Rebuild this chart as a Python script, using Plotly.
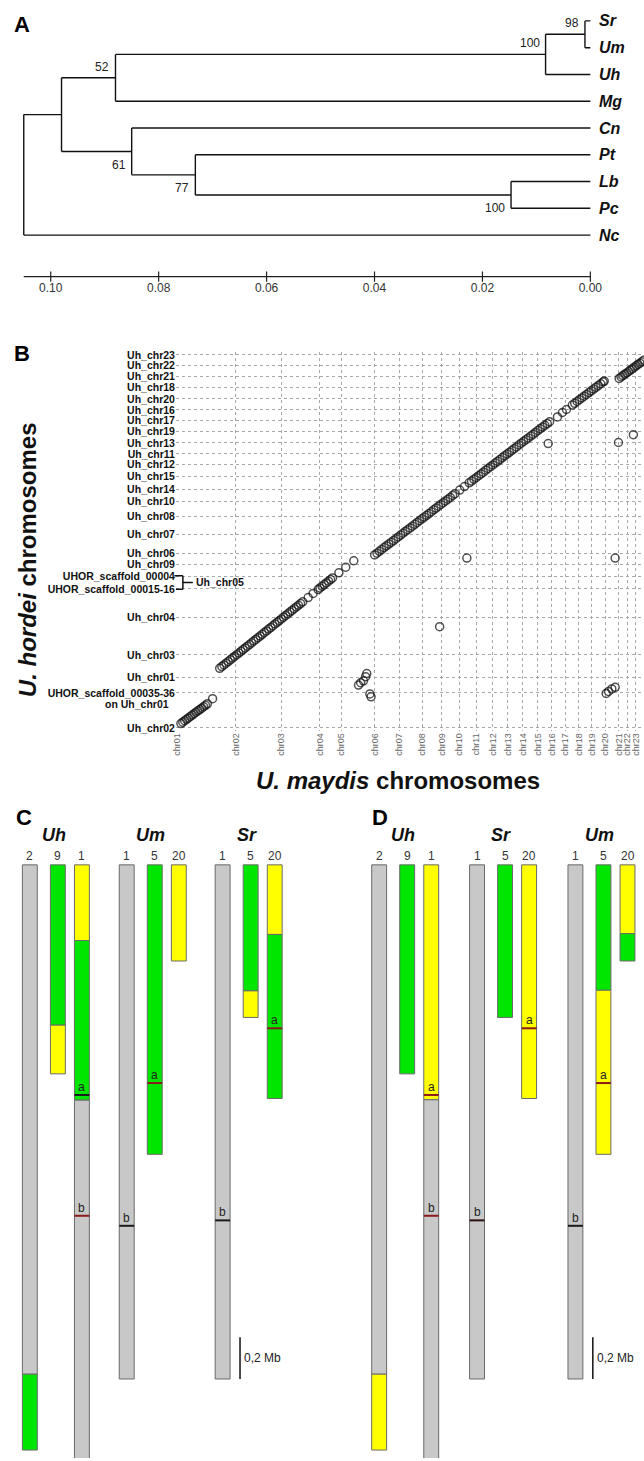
import plotly.graph_objects as go

W, H = 644, 1461
FONT = "Liberation Sans, Arial, sans-serif"

def pxx(x):
    return x / W

def pxy(y):
    return 1 - y / H

# ---------------- Panel A: tree data ----------------
taxa = ["Sr", "Um", "Uh", "Mg", "Cn", "Pt", "Lb", "Pc", "Nc"]
node_names = ["n98", "n100a", "n52", "n100b", "n77", "n61", "n5261", "root"]
node_heights = [0.0010, 0.0083, 0.0880, 0.0147, 0.0732, 0.0850, 0.0980, 0.1050]
node_children = [("Sr", "Um"), ("n98", "Uh"), ("n100a", "Mg"), ("Lb", "Pc"),
                 ("Pt", "n100b"), ("Cn", "n77"), ("n52", "n61"), ("n5261", "Nc")]
bootstrap_nodes = ["n98", "n100a", "n52", "n61", "n77", "n100b"]
bootstrap_values = [98, 100, 52, 61, 77, 100]
bootstrap_side = ["above", "above", "above", "below", "below", "below"]
scale_ticks = [0.10, 0.08, 0.06, 0.04, 0.02, 0.00]

# ---------------- Panel B: dot plot data (Mb) ----------------
um_chr_names = ["chr%02d" % i for i in range(1, 24)]
um_chr_start = [0.00, 2.49, 4.42, 6.05, 6.95, 8.37, 9.41, 10.38, 11.20, 11.95, 12.65, 13.35,
                13.99, 14.62, 15.26, 15.85, 16.42, 16.99, 17.55, 18.12, 18.69, 19.05, 19.41]
uh_chr_names = ["Uh_chr02", "UHOR_scaffold_00035-36", "Uh_chr01", "Uh_chr03", "Uh_chr04",
                "UHOR_scaffold_00015-16", "UHOR_scaffold_00004", "Uh_chr09", "Uh_chr06",
                "Uh_chr07", "Uh_chr08", "Uh_chr10", "Uh_chr14", "Uh_chr15", "Uh_chr12",
                "Uh_chr11", "Uh_chr13", "Uh_chr19", "Uh_chr17", "Uh_chr16", "Uh_chr20",
                "Uh_chr18", "Uh_chr21", "Uh_chr22", "Uh_chr23"]
uh_chr_pos = [0.00, 1.97, 2.82, 4.11, 6.24, 7.83, 8.54, 9.21, 9.83, 10.91, 11.90, 12.74,
              13.45, 14.14, 14.85, 15.43, 16.05, 16.68, 17.30, 17.91, 18.53, 19.17,
              19.79, 20.40, 21.00]

run1_um = [0.17, 0.25, 0.33, 0.41, 0.49, 0.57, 0.65, 0.73, 0.81, 0.89, 0.97, 1.05, 1.13,
           1.21, 1.29, 1.51]
run1_uh = [0.24, 0.32, 0.40, 0.48, 0.56, 0.64, 0.72, 0.80, 0.88, 0.96, 1.03, 1.11, 1.19,
           1.27, 1.35, 1.64]
run2_um = [1.81, 1.90, 1.99, 2.08, 2.17, 2.26, 2.35, 2.44, 2.53, 2.62, 2.71, 2.80, 2.89,
           2.98, 3.07, 3.16, 3.25, 3.34, 3.43, 3.52, 3.61, 3.70, 3.79, 3.88, 3.97, 4.06,
           4.15, 4.24, 4.33, 4.42, 4.51, 4.60, 4.69, 4.78, 4.87, 4.96, 5.05, 5.14, 5.23,
           5.32, 5.55, 5.76, 5.97, 6.05, 6.14, 6.23, 6.32, 6.41, 6.50, 6.58, 6.85, 7.14, 7.48]
run2_uh = [3.35, 3.45, 3.54, 3.64, 3.73, 3.83, 3.93, 4.02, 4.12, 4.21, 4.31, 4.41, 4.50,
           4.60, 4.69, 4.79, 4.89, 4.98, 5.08, 5.17, 5.27, 5.37, 5.46, 5.56, 5.65, 5.75,
           5.85, 5.94, 6.04, 6.13, 6.23, 6.33, 6.42, 6.52, 6.61, 6.71, 6.81, 6.90, 7.00,
           7.10, 7.34, 7.57, 7.79, 7.88, 7.97, 8.07, 8.16, 8.26, 8.35, 8.44, 8.73, 9.05, 9.41]
run3_um = [8.36, 8.46, 8.56, 8.66, 8.76, 8.86, 8.96, 9.06, 9.16, 9.26, 9.36, 9.46, 9.56,
           9.66, 9.76, 9.86, 9.96, 10.06, 10.16, 10.26, 10.36, 10.46, 10.56, 10.66, 10.76,
           10.86, 10.96, 11.06, 11.16, 11.26, 11.36, 11.46, 11.56, 11.66, 11.76, 11.96,
           12.16, 12.36, 12.46, 12.56, 12.66, 12.76, 12.86, 12.96, 13.06, 13.16, 13.26,
           13.36, 13.46, 13.56, 13.66, 13.76, 13.86, 13.96, 14.06, 14.16, 14.26, 14.36,
           14.46, 14.56, 14.66, 14.76, 14.86, 14.96, 15.06, 15.16, 15.26, 15.36, 15.46,
           15.56, 15.66, 15.76]
run3_uh = [9.74, 9.84, 9.94, 10.04, 10.15, 10.25, 10.35, 10.45, 10.55, 10.65, 10.75, 10.86,
           10.96, 11.06, 11.16, 11.26, 11.36, 11.46, 11.57, 11.67, 11.77, 11.87, 11.97,
           12.07, 12.17, 12.28, 12.38, 12.48, 12.58, 12.68, 12.78, 12.88, 12.98, 13.09,
           13.19, 13.39, 13.59, 13.80, 13.90, 14.00, 14.10, 14.20, 14.30, 14.40, 14.51,
           14.61, 14.71, 14.81, 14.91, 15.01, 15.11, 15.22, 15.32, 15.42, 15.52, 15.62,
           15.72, 15.82, 15.93, 16.03, 16.13, 16.23, 16.33, 16.43, 16.53, 16.64, 16.74,
           16.84, 16.94, 17.04, 17.14, 17.24]
run3b_um = [16.09, 16.30, 16.47, 16.72, 16.82, 16.92, 17.02, 17.12, 17.22, 17.32, 17.42,
            17.52, 17.62, 17.72, 17.82, 17.92, 18.02, 18.07]
run3b_uh = [17.51, 17.76, 17.93, 18.18, 18.28, 18.38, 18.48, 18.58, 18.68, 18.78, 18.88,
            18.98, 19.08, 19.18, 19.28, 19.38, 19.48, 19.53]
run4_um = [18.70, 18.78, 18.86, 18.94, 19.02, 19.10, 19.18, 19.26, 19.34, 19.42, 19.50,
           19.58, 19.66, 19.74]
run4_uh = [19.68, 19.76, 19.84, 19.92, 19.99, 20.07, 20.15, 20.23, 20.31, 20.39, 20.47,
           20.54, 20.62, 20.70]
outlier_um = [15.70, 18.67, 19.30, 12.26, 18.53, 11.11, 7.68, 7.77, 7.89, 7.98, 8.03,
              8.16, 8.21, 18.15, 18.25, 18.39, 18.53]
outlier_uh = [16.01, 16.07, 16.51, 9.56, 9.56, 5.70, 2.41, 2.54, 2.65, 2.88, 3.06,
              1.91, 1.75, 1.94, 2.05, 2.19, 2.28]

# ---------------- Panels C / D: chromosome data (Mb) ----------------
species_order_C = ["Uh", "Um", "Sr"]
species_order_D = ["Uh", "Sr", "Um"]
chrom_numbers = {"Uh": ["2", "9", "1"], "Um": ["1", "5", "20"], "Sr": ["1", "5", "20"]}
chrom_length = {("Uh", "2"): 2.80, ("Uh", "9"): 1.00, ("Uh", "1"): 2.95,
                ("Um", "1"): 2.46, ("Um", "5"): 1.385, ("Um", "20"): 0.46,
                ("Sr", "1"): 2.46, ("Sr", "5"): 0.73, ("Sr", "20"): 1.118}
breaks_C = {("Uh", "2"): ([2.437], ["gray", "green"]),
            ("Uh", "9"): ([0.767], ["green", "yellow"]),
            ("Uh", "1"): ([0.362, 1.126], ["yellow", "green", "gray"]),
            ("Um", "1"): ([], ["gray"]),
            ("Um", "5"): ([], ["green"]),
            ("Um", "20"): ([], ["yellow"]),
            ("Sr", "1"): ([], ["gray"]),
            ("Sr", "5"): ([0.603], ["green", "yellow"]),
            ("Sr", "20"): ([0.333], ["yellow", "green"])}
breaks_D = {("Uh", "2"): ([2.437], ["gray", "yellow"]),
            ("Uh", "9"): ([], ["green"]),
            ("Uh", "1"): ([1.124], ["yellow", "gray"]),
            ("Um", "1"): ([], ["gray"]),
            ("Um", "5"): ([0.600], ["green", "yellow"]),
            ("Um", "20"): ([0.329], ["yellow", "green"]),
            ("Sr", "1"): ([], ["gray"]),
            ("Sr", "5"): ([], ["green"]),
            ("Sr", "20"): ([], ["yellow"])}
landmarks = [("Uh", "1", "a", 1.101), ("Uh", "1", "b", 1.679), ("Um", "1", "b", 1.727),
             ("Um", "5", "a", 1.044), ("Sr", "1", "b", 1.701), ("Sr", "20", "a", 0.782)]
landmark_color_C = ["#1a1a1a", "#8b1a1a", "#1a1a1a", "#8b1a1a", "#1a1a1a", "#8b1a1a"]
landmark_color_D = ["#8b1a1a", "#8b1a1a", "#1a1a1a", "#8b1a1a", "#2a1010", "#8b1a1a"]
scale_bar_mb = 0.2

# ---------------- styles ----------------
COL = {"gray": "#c8c8c8", "green": "#00e600", "yellow": "#ffff00"}
BAR_W = 15
MEMBER_OFF = [0, 28.2, 52.4]
GROUP_LEFT = {"C": [18.5, 116, 212.5], "D": [370, 468.5, 567.5]}

fig = go.Figure()
ann = []
shapes = []

# ================= Panel A =================
ypos = {t: i for i, t in enumerate(taxa)}
hpos = {t: 0.0 for t in taxa}
hpos.update(dict(zip(node_names, node_heights)))
for n, ch in zip(node_names, node_children):
    ypos[n] = (ypos[ch[0]] + ypos[ch[1]]) / 2
tx, ty = [], []
for n, ch in zip(node_names, node_children):
    h = hpos[n]
    tx += [h, h, None]
    ty += [ypos[ch[0]], ypos[ch[1]], None]
    for c in ch:
        tx += [h, hpos[c], None]
        ty += [ypos[c], ypos[c], None]
fig.add_trace(go.Scatter(x=tx, y=ty, mode="lines", line=dict(color="#111", width=1.4),
                         xaxis="x", yaxis="y", hoverinfo="skip"))
SCALE_Y = 9.55
sx, sy = [hpos["root"], 0.0, None], [SCALE_Y, SCALE_Y, None]
for t in scale_ticks:
    sx += [t, t, None]
    sy += [SCALE_Y - 0.19, SCALE_Y + 0.19, None]
fig.add_trace(go.Scatter(x=sx, y=sy, mode="lines", line=dict(color="#222", width=1.2),
                         xaxis="x", yaxis="y", hoverinfo="skip"))
fig.add_trace(go.Scatter(x=scale_ticks, y=[SCALE_Y + 0.45] * len(scale_ticks), mode="text",
                         text=["%.2f" % t for t in scale_ticks],
                         textfont=dict(family=FONT, size=12, color="#333"),
                         xaxis="x", yaxis="y", hoverinfo="skip"))
for t in taxa:
    ann.append(dict(x=0.0, y=ypos[t], xref="x", yref="y", text="<b><i>%s</i></b>" % t,
                    showarrow=False, xanchor="left", yanchor="middle", xshift=7,
                    font=dict(family=FONT, size=16, color="#111")))
for n, v, side in zip(bootstrap_nodes, bootstrap_values, bootstrap_side):
    yy = ypos[n] - 0.42 if side == "above" else ypos[n] + 0.5
    ann.append(dict(x=hpos[n], y=yy, xref="x", yref="y", text=str(v), showarrow=False,
                    xanchor="right", yanchor="middle", xshift=-4,
                    font=dict(family=FONT, size=12, color="#222")))

# ================= Panel B =================
dot_style = dict(symbol="circle-open", size=8, color="rgba(15,15,15,0.72)",
                 line=dict(width=1.5))
for xs, ys in [(run1_um, run1_uh), (run2_um, run2_uh), (run3_um, run3_uh),
               (run3b_um, run3b_uh), (run4_um, run4_uh), (outlier_um, outlier_uh)]:
    fig.add_trace(go.Scatter(x=xs, y=ys, mode="markers", marker=dot_style,
                             xaxis="x2", yaxis="y2", hoverinfo="skip"))

bracket_top = uh_chr_pos[uh_chr_names.index("UHOR_scaffold_00004")] + 0.03
bracket_bot = uh_chr_pos[uh_chr_names.index("UHOR_scaffold_00015-16")] - 0.02
bracket_mid = (bracket_top + bracket_bot) / 2
for x0, y0, x1, y1 in [(pxx(171.5), bracket_top, pxx(180), bracket_top),
                       (pxx(180), bracket_top, pxx(180), bracket_bot),
                       (pxx(173), bracket_bot, pxx(180), bracket_bot),
                       (pxx(180), bracket_mid, pxx(190), bracket_mid)]:
    shapes.append(dict(type="line", xref="paper", yref="y2", x0=x0, y0=y0, x1=x1, y1=y1,
                       line=dict(color="#111", width=1.5)))
ann.append(dict(x=pxx(191.5), y=bracket_mid, xref="paper", yref="y2", text="Uh_chr05",
                showarrow=False, xanchor="left", yanchor="middle",
                font=dict(family=FONT, size=10.5, color="#111", weight="bold")))
ann.append(dict(x=pxx(168), y=uh_chr_pos[1] - 0.64, xref="paper", yref="y2",
                text="on Uh_chr01", showarrow=False, xanchor="right", yanchor="middle",
                font=dict(family=FONT, size=10.5, color="#111", weight="bold")))
ann.append(dict(x=pxx(23), y=pxy(558), xref="paper", yref="paper",
                text="<b><i>U. hordei</i> chromosomes</b>", textangle=-90, showarrow=False,
                xanchor="center", yanchor="middle",
                font=dict(family=FONT, size=24, color="#111")))
ann.append(dict(x=pxx(396), y=pxy(780), xref="paper", yref="paper",
                text="<b><i>U. maydis</i> chromosomes</b>", showarrow=False,
                xanchor="center", yanchor="middle",
                font=dict(family=FONT, size=24, color="#111")))

# ================= Panels C / D =================
bx, bbase, blen, bcol = [], [], [], []
for panel, order, brk, lmcols in [("C", species_order_C, breaks_C, landmark_color_C),
                                  ("D", species_order_D, breaks_D, landmark_color_D)]:
    centers = {}
    for gi, sp in enumerate(order):
        for mi, num in enumerate(chrom_numbers[sp]):
            cx = GROUP_LEFT[panel][gi] + MEMBER_OFF[mi] + BAR_W / 2
            centers[(sp, num)] = cx
            b, cols = brk[(sp, num)]
            edges = [0.0] + b + [chrom_length[(sp, num)]]
            for k, c in enumerate(cols):
                bx.append(cx)
                bbase.append(edges[k])
                blen.append(edges[k + 1] - edges[k])
                bcol.append(COL[c])
            ann.append(dict(x=cx, y=0, xref="x3", yref="y3", text=num, showarrow=False,
                            xanchor="center", yanchor="bottom", yshift=0,
                            font=dict(family=FONT, size=12, color="#333")))
        mid = GROUP_LEFT[panel][gi] + MEMBER_OFF[1] + BAR_W / 2
        ann.append(dict(x=mid - 4, y=0, xref="x3", yref="y3",
                        text="<b><i>%s</i></b>" % sp, showarrow=False, xanchor="center",
                        yanchor="bottom", yshift=18,
                        font=dict(family=FONT, size=18, color="#111")))
    for (sp, num, letter, pos), lc in zip(landmarks, lmcols):
        cx = centers[(sp, num)]
        fig.add_trace(go.Scatter(x=[cx - BAR_W / 2, cx + BAR_W / 2], y=[pos, pos],
                                 mode="lines", line=dict(color=lc, width=2),
                                 xaxis="x3", yaxis="y3", hoverinfo="skip"))
        ann.append(dict(x=cx, y=pos, xref="x3", yref="y3", text=letter, showarrow=False,
                        xanchor="center", yanchor="bottom", yshift=-1,
                        font=dict(family=FONT, size=12, color="#222")))
    ref_sp = order[2]
    sbx = GROUP_LEFT[panel][2] + BAR_W + 10
    sb_end = chrom_length[(ref_sp, "1")]
    fig.add_trace(go.Scatter(x=[sbx, sbx], y=[sb_end - scale_bar_mb, sb_end], mode="lines",
                             line=dict(color="#111", width=1.5), xaxis="x3", yaxis="y3",
                             hoverinfo="skip"))
    ann.append(dict(x=sbx, y=sb_end - scale_bar_mb / 2, xref="x3", yref="y3",
                    text="0,2 Mb", showarrow=False, xanchor="left", yanchor="middle",
                    xshift=2, font=dict(family=FONT, size=12, color="#222")))

fig.add_trace(go.Bar(x=bx, y=blen, base=bbase, width=[BAR_W] * len(bx),
                     marker=dict(color=bcol, line=dict(color="#6a6a6a", width=1)),
                     xaxis="x3", yaxis="y3", hoverinfo="skip"))
fig.data = (fig.data[-1],) + fig.data[:-1]

for letter, (x, y) in {"A": (18, 21), "B": (18, 351), "C": (20, 817), "D": (378, 817)}.items():
    ann.append(dict(x=pxx(x), y=pxy(y), xref="paper", yref="paper", text="<b>%s</b>" % letter,
                    showarrow=False, xanchor="center", yanchor="middle",
                    font=dict(family=FONT, size=22, color="#000")))

grid = dict(showgrid=True, gridcolor="#a8a8a8", griddash="dot", gridwidth=1,
            zeroline=False, showline=False, ticks="")
fig.update_layout(
    width=W, height=H, margin=dict(l=0, r=0, t=0, b=0),
    paper_bgcolor="white", plot_bgcolor="rgba(0,0,0,0)", showlegend=False,
    barmode="overlay",
    xaxis=dict(domain=[0, 1], range=[0.10866, -0.00994], visible=False, anchor="y"),
    yaxis=dict(domain=[pxy(300), 1], range=[10.52, -0.632], visible=False, anchor="x"),
    xaxis2=dict(domain=[pxx(173), 1], range=[-0.04, 19.75], anchor="y2",
                tickvals=um_chr_start, ticktext=um_chr_names, tickangle=-90,
                tickfont=dict(family=FONT, size=9, color="#666"), **grid),
    yaxis2=dict(domain=[pxy(730), pxy(350)], range=[-0.15, 21.15], anchor="x2",
                tickvals=uh_chr_pos, ticktext=uh_chr_names,
                tickfont=dict(family=FONT, size=10.5, color="#111", weight="bold"), **grid),
    xaxis3=dict(domain=[0, 1], range=[0, W], visible=False, anchor="y3"),
    yaxis3=dict(domain=[0, pxy(800)], range=[2.838, -0.3095], visible=False, anchor="x3"),
    annotations=ann, shapes=shapes,
)
fig.write_html("out.html", config={"displayModeBar": False, "staticPlot": True},
               post_script="document.body.style.margin='0';document.body.style.overflow='hidden';")
